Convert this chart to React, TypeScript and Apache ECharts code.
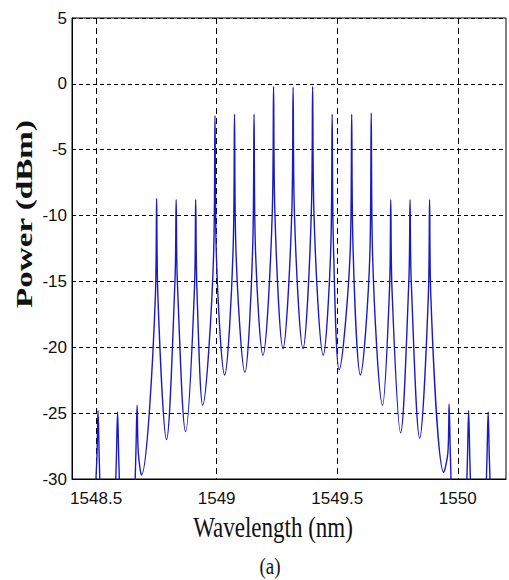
import React, { useEffect, useRef } from "react";
import * as echarts from "echarts";

// Comb line centres (nm) and their peak powers (dBm)
const peakWavelengths = [
  1548.508, 1548.589, 1548.67, 1548.751, 1548.832, 1548.913, 1548.993,
  1549.074, 1549.155, 1549.236, 1549.317, 1549.398, 1549.479, 1549.56,
  1549.641, 1549.722, 1549.802, 1549.883, 1549.964, 1550.045, 1550.126,
];
const peakPowers = [
  -24.8, -24.9, -24.4, -8.7, -8.8, -8.8, -2.4, -2.3, -2.3, -0.2, -0.25, -0.2,
  -2.3, -2.3, -2.2, -8.8, -8.8, -8.8, -24.3, -24.8, -24.9,
];
// Level where each line's narrow tip meets its wider skirt (dBm)
const shoulderPowers = [
  -28.5, -28.5, -28, -16, -15, -15.5, -12.5, -12, -12, -9.5, -9.5, -9.5, -12,
  -12, -12.5, -15.5, -15, -16, -28, -28.5, -28.5,
];
// Troughs: before the first line, between each neighbouring pair, after the last
const valleyWavelengths = [
  1548.45, 1548.548, 1548.63, 1548.688, 1548.792, 1548.871, 1548.942,
  1549.033, 1549.117, 1549.192, 1549.275, 1549.358, 1549.442, 1549.508,
  1549.596, 1549.688, 1549.763, 1549.842, 1549.942, 1550.005, 1550.085,
  1550.17,
];
const valleyPowers = [
  -50, -50, -50, -29.7, -27.0, -26.4, -24.4, -22.1, -21.9, -20.6, -20.1, -20.1,
  -20.6, -21.7, -22.1, -24.4, -26.5, -26.9, -29.5, -50, -50, -50,
];
const xTicks = [1548.5, 1549, 1549.5, 1550];

const TIP_HALF_WIDTH = 0.005;

function buildTrace(): [number, number][] {
  const pts: [number, number][] = [];
  peakWavelengths.forEach((w, i) => {
    pts.push([valleyWavelengths[i], valleyPowers[i]]);
    pts.push([w - TIP_HALF_WIDTH, shoulderPowers[i]]);
    pts.push([w, peakPowers[i]]);
    pts.push([w + TIP_HALF_WIDTH, shoulderPowers[i]]);
  });
  const last = valleyWavelengths.length - 1;
  pts.push([valleyWavelengths[last], valleyPowers[last]]);
  return pts;
}

const SANS = '"Liberation Sans", Arial, sans-serif';
const SERIF = '"Liberation Serif", "Times New Roman", serif';

export default function App() {
  const ref = useRef<HTMLDivElement>(null);

  useEffect(() => {
    if (!ref.current) return;
    const chart = echarts.init(ref.current, undefined, { renderer: "svg" });
    chart.setOption({
      animation: false,
      backgroundColor: "#fff",
      grid: {
        left: 72,
        right: 3,
        top: 18,
        bottom: 101,
        show: true,
        borderColor: "#000",
        borderWidth: 1,
        backgroundColor: "transparent",
      },
      xAxis: {
        type: "value",
        min: 1548.4,
        max: 1550.2,
        axisLine: {
          show: true,
          onZero: false,
          lineStyle: { color: "#000", width: 1 },
        },
        axisTick: { show: false, customValues: xTicks },
        axisLabel: {
          customValues: xTicks,
          formatter: (v: number) => String(v),
          color: "#111",
          fontFamily: SANS,
          fontSize: 17,
          margin: 11,
        },
        splitLine: {
          show: true,
          lineStyle: { color: "#000", type: [6, 4], width: 1 },
        },
      },
      yAxis: {
        type: "value",
        min: -30,
        max: 5,
        interval: 5,
        axisLine: { show: true, onZero: false, lineStyle: { color: "#000", width: 1 } },
        axisTick: { show: false },
        axisLabel: {
          color: "#111",
          fontFamily: SANS,
          fontSize: 17,
          margin: 5,
        },
        splitLine: {
          show: true,
          lineStyle: { color: "#000", type: [4, 3], width: 1 },
        },
      },
      graphic: [
        {
          type: "text",
          x: 273,
          y: 527,
          scaleY: 1.3,
          style: {
            text: "Wavelength (nm)",
            font: `23px ${SERIF}`,
            fill: "#111",
            align: "center",
            verticalAlign: "middle",
            textAlign: "center",
            textVerticalAlign: "middle",
          },
        },
        {
          type: "text",
          x: 24,
          y: 214,
          rotation: Math.PI / 2,
          scaleX: 1.38,
          style: {
            text: "Power (dBm)",
            font: `bold 24px ${SERIF}`,
            fill: "#111",
            align: "center",
            verticalAlign: "middle",
            textAlign: "center",
            textVerticalAlign: "middle",
          },
        },
        {
          type: "text",
          x: 270,
          y: 566,
          scaleY: 1.2,
          style: {
            text: "(a)",
            font: `19px ${SERIF}`,
            fill: "#111",
            align: "center",
            verticalAlign: "middle",
            textAlign: "center",
            textVerticalAlign: "middle",
          },
        },
      ],
      series: [
        {
          type: "line",
          data: buildTrace(),
          showSymbol: false,
          smooth: 0.35,
          clip: true,
          lineStyle: { color: "#1a1ac4", width: 1.4 },
          z: 3,
        },
      ],
    });
    return () => chart.dispose();
  }, []);

  return (
    <div
      ref={ref}
      style={{ position: "absolute", left: 0, top: 0, width: 509, height: 580 }}
    />
  );
}
